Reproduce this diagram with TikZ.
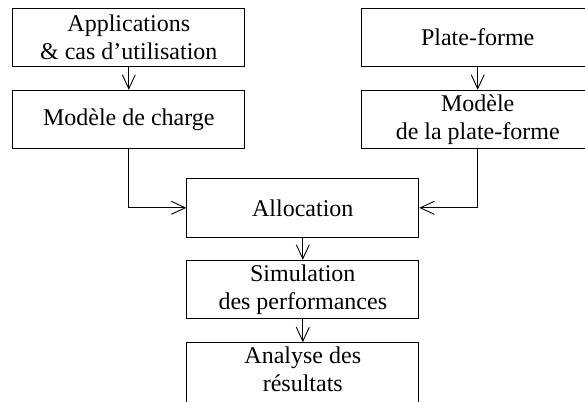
\documentclass[tikz,border=0pt]{standalone}
\usepackage{fontspec}
\setmainfont{Liberation Serif}
\usetikzlibrary{arrows.meta}

\begin{document}
\begin{tikzpicture}[x=1pt,y=-1pt,
		>={Straight Barb[length=14pt,width=13pt]},
		boite/.style={draw, line width=0.9pt, minimum width=232pt, minimum height=58.5pt,
			align=center, font=\fontsize{24}{27.6}\selectfont},
		fleche/.style={->, line width=0.9pt}]
		\useasboundingbox (0,0) rectangle (585,401);
		\node[boite] (app) at (128.8,37.4){Applications\\\& cas d'utilisation};
		\node[boite] (charge) at (128.8,119.5){Modèle de charge};
		\node[boite] (plat) at (477.7,37.4){Plate-forme};
		\node[boite] (mplat) at (477.7,119.5){Modèle\\de la plate-forme};
		\node[boite] (alloc) at (302.8,207.8){Allocation};
		\node[boite] (simu) at (302.8,289.5){Simulation\\des performances};
		\node[boite, minimum height=70pt, text depth=17pt] (analyse) at (302.8,377.7){Analyse des\\résultats};
		\draw[fleche] (app) -- (charge);
		\draw[fleche] (plat) -- (mplat);
		\draw[fleche] (charge.south) |- (alloc.west);
		\draw[fleche] (mplat.south) |- (alloc.east);
		\draw[fleche] (alloc) -- (simu);
		\draw[fleche] (simu) -- (analyse);
	\end{tikzpicture}
\end{document}
